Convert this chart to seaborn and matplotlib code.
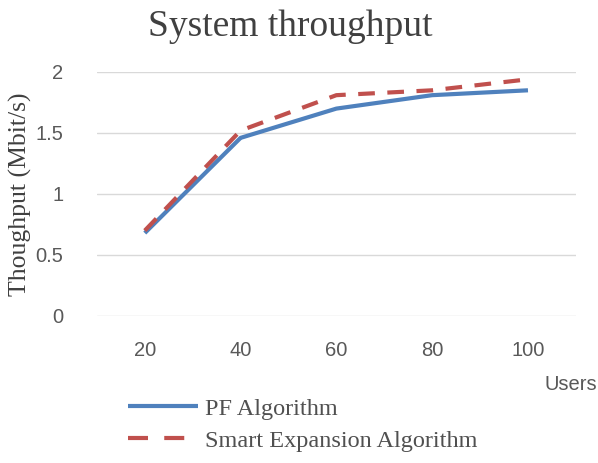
import pandas as pd
import matplotlib.pyplot as plt
import seaborn as sns

users = ['20', '40', '60', '80', '100']
pf_algorithm = [0.68, 1.46, 1.70, 1.81, 1.85]
smart_expansion = [0.70, 1.52, 1.81, 1.85, 1.94]
series_names = ['PF Algorithm', 'Smart Expansion Algorithm']

df = pd.DataFrame({
    'Users': users * 2,
    'Throughput': pf_algorithm + smart_expansion,
    'Series': [series_names[0]] * len(users) + [series_names[1]] * len(users),
})

sns.set_style('white')
serif = ['Liberation Serif', 'DejaVu Serif']
sans = ['Liberation Sans', 'DejaVu Sans']

fig = plt.figure(figsize=(5.98, 4.63), dpi=100)
ax = fig.add_axes([0.162, 0.3175, 0.801, 0.527])

sns.lineplot(data=df, x='Users', y='Throughput', hue='Series', style='Series',
             palette=['#4F81BD', '#C0504D'], dashes=[(1, 0), (4, 3)],
             linewidth=3, sort=False, ax=ax, legend=False)

ax.set_xlim(-0.5, 4.5)
ax.set_ylim(0, 2)
ax.set_yticks([0, 0.5, 1, 1.5, 2])
ax.set_yticklabels(['0', '0.5', '1', '1.5', '2'])
ax.grid(axis='y', color='#D9D9D9', linewidth=1)
ax.set_axisbelow(True)
for s in ax.spines.values():
    s.set_visible(False)
ax.tick_params(axis='both', length=0, labelsize=14.5, labelcolor='#595959')
ax.tick_params(axis='x', pad=18)
ax.tick_params(axis='y', pad=24)
for lab in ax.get_xticklabels() + ax.get_yticklabels():
    lab.set_family(sans)

ax.set_xlabel('')
ax.set_ylabel('Thoughput (Mbit/s)', family=serif, fontsize=18.5, color='#404040', labelpad=3)
fig.text(0.485, 0.942, 'System throughput', family=serif, fontsize=27,
         color='#404040', ha='center', va='center')
fig.text(0.999, 0.17, 'Users', family=sans, fontsize=14.5, color='#595959',
         ha='right', va='center')

handles = ax.get_lines()[:2]
leg = fig.legend(handles, series_names, loc='upper left', bbox_to_anchor=(0.197, 0.162),
                 frameon=False, prop={'family': serif, 'size': 17.5}, handlelength=2.9,
                 handletextpad=0.3, labelspacing=0.42, borderaxespad=0)
for t in leg.get_texts():
    t.set_color('#505050')
# longer dashes in the legend key, two dashes like the original
leg.get_lines()[1].set_dashes((4.8, 3.9))

fig.savefig('out.png', dpi=100)
